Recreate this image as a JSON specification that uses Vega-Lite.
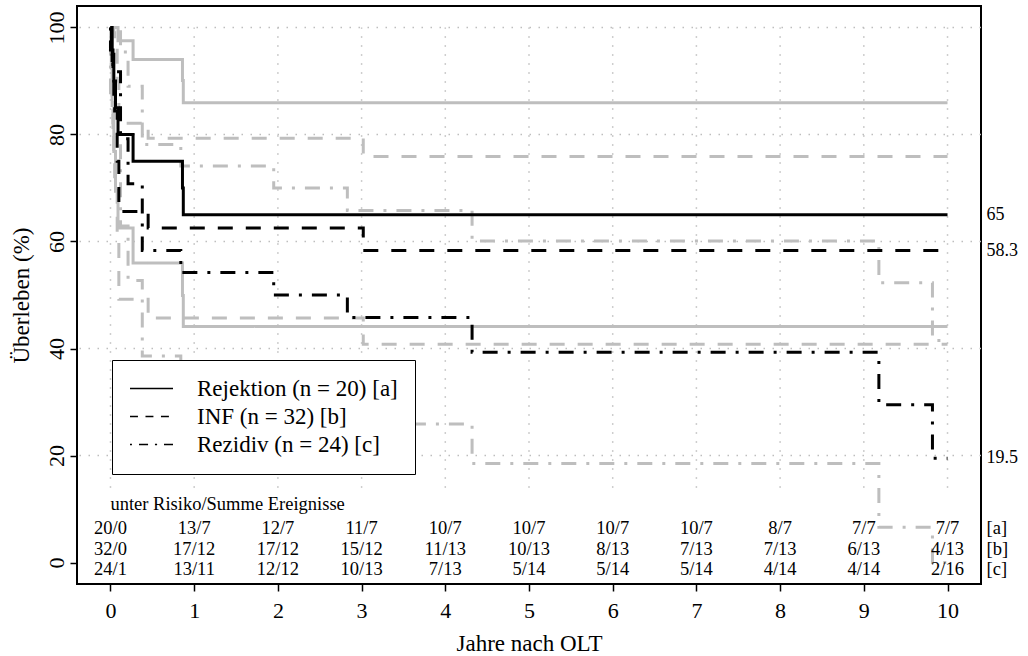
{
  "$schema": "https://vega.github.io/schema/vega-lite/v6.json",
  "width": 904,
  "height": 578,
  "autosize": {"type": "none"},
  "padding": {"left": 77, "top": 6, "right": 47, "bottom": 72},
  "background": "white",
  "config": {
    "view": {"stroke": "black", "strokeWidth": 2},
    "font": "Liberation Serif",
    "text": {"font": "Liberation Serif", "color": "black"},
    "axis": {
      "domain": false, "grid": false,
      "tickSize": 7, "tickWidth": 1.5, "tickColor": "black",
      "labelFont": "Liberation Serif", "labelFontSize": 22, "labelColor": "black",
      "labelOverlap": false, "labelFlush": false,
      "titleFont": "Liberation Serif", "titleFontSize": 23, "titleFontWeight": "normal", "titleColor": "black"
    },
    "axisX": {
      "labelPadding": 9, "labelBaseline": "top",
      "titleX": 452, "titleY": 66, "titleAlign": "center", "titleBaseline": "alphabetic"
    },
    "axisY": {
      "labelAngle": 270, "labelAlign": "center", "labelBaseline": "alphabetic", "labelPadding": 7,
      "titleAngle": 270, "titleX": -49, "titleY": 289, "titleAlign": "center", "titleBaseline": "alphabetic"
    },
    "legend": {
      "title": null, "orient": "none", "legendX": 35, "legendY": 354,
      "symbolSize": 1849, "symbolStrokeWidth": 1.6, "symbolOpacity": 1,
      "symbolStrokeColor": "black", "symbolFillColor": "transparent", "clipHeight": 23,
      "labelFont": "Liberation Serif", "labelFontSize": 23, "labelColor": "black",
      "labelLimit": 400, "labelOffset": 23, "rowPadding": 4, "padding": 17,
      "fillColor": "white", "strokeColor": "black"
    }
  },
  "datasets": {
    "km": [
      {"g": "Rejektion", "b": "est", "t": 0, "s": 100},
      {"g": "Rejektion", "b": "est", "t": 0.02, "s": 95},
      {"g": "Rejektion", "b": "est", "t": 0.04, "s": 90},
      {"g": "Rejektion", "b": "est", "t": 0.06, "s": 85},
      {"g": "Rejektion", "b": "est", "t": 0.09, "s": 80},
      {"g": "Rejektion", "b": "est", "t": 0.27, "s": 75},
      {"g": "Rejektion", "b": "est", "t": 0.86, "s": 70},
      {"g": "Rejektion", "b": "est", "t": 0.87, "s": 65},
      {"g": "Rejektion", "b": "est", "t": 10, "s": 65},
      {"g": "Rejektion", "b": "lo", "t": 0, "s": 100},
      {"g": "Rejektion", "b": "lo", "t": 0.02, "s": 85.4},
      {"g": "Rejektion", "b": "lo", "t": 0.04, "s": 76.8},
      {"g": "Rejektion", "b": "lo", "t": 0.06, "s": 69.4},
      {"g": "Rejektion", "b": "lo", "t": 0.09, "s": 62.5},
      {"g": "Rejektion", "b": "lo", "t": 0.27, "s": 56.0},
      {"g": "Rejektion", "b": "lo", "t": 0.86, "s": 49.9},
      {"g": "Rejektion", "b": "lo", "t": 0.87, "s": 44.1},
      {"g": "Rejektion", "b": "lo", "t": 10, "s": 44.1},
      {"g": "Rejektion", "b": "up", "t": 0, "s": 100},
      {"g": "Rejektion", "b": "up", "t": 0.09, "s": 97.5},
      {"g": "Rejektion", "b": "up", "t": 0.27, "s": 94.0},
      {"g": "Rejektion", "b": "up", "t": 0.86, "s": 90.1},
      {"g": "Rejektion", "b": "up", "t": 0.87, "s": 85.9},
      {"g": "Rejektion", "b": "up", "t": 10, "s": 85.9},
      {"g": "INF", "b": "est", "t": 0, "s": 100},
      {"g": "INF", "b": "est", "t": 0.01, "s": 96.9},
      {"g": "INF", "b": "est", "t": 0.02, "s": 93.8},
      {"g": "INF", "b": "est", "t": 0.03, "s": 90.6},
      {"g": "INF", "b": "est", "t": 0.04, "s": 87.5},
      {"g": "INF", "b": "est", "t": 0.05, "s": 84.4},
      {"g": "INF", "b": "est", "t": 0.08, "s": 75.0},
      {"g": "INF", "b": "est", "t": 0.1, "s": 65.6},
      {"g": "INF", "b": "est", "t": 0.45, "s": 62.5},
      {"g": "INF", "b": "est", "t": 3.02, "s": 58.3},
      {"g": "INF", "b": "est", "t": 10, "s": 58.3},
      {"g": "INF", "b": "lo", "t": 0, "s": 100},
      {"g": "INF", "b": "lo", "t": 0.01, "s": 90.8},
      {"g": "INF", "b": "lo", "t": 0.02, "s": 85.4},
      {"g": "INF", "b": "lo", "t": 0.03, "s": 80.5},
      {"g": "INF", "b": "lo", "t": 0.04, "s": 76.0},
      {"g": "INF", "b": "lo", "t": 0.05, "s": 71.8},
      {"g": "INF", "b": "lo", "t": 0.08, "s": 60.0},
      {"g": "INF", "b": "lo", "t": 0.1, "s": 49.2},
      {"g": "INF", "b": "lo", "t": 0.45, "s": 45.7},
      {"g": "INF", "b": "lo", "t": 3.02, "s": 40.8},
      {"g": "INF", "b": "lo", "t": 10, "s": 40.8},
      {"g": "INF", "b": "up", "t": 0, "s": 100},
      {"g": "INF", "b": "up", "t": 0.04, "s": 99.0},
      {"g": "INF", "b": "up", "t": 0.05, "s": 97.0},
      {"g": "INF", "b": "up", "t": 0.08, "s": 90.0},
      {"g": "INF", "b": "up", "t": 0.1, "s": 82.1},
      {"g": "INF", "b": "up", "t": 0.45, "s": 79.3},
      {"g": "INF", "b": "up", "t": 3.02, "s": 75.9},
      {"g": "INF", "b": "up", "t": 10, "s": 75.9},
      {"g": "Rezidiv", "b": "est", "t": 0, "s": 100},
      {"g": "Rezidiv", "b": "est", "t": 0, "s": 95.8},
      {"g": "Rezidiv", "b": "est", "t": 0.03, "s": 91.7},
      {"g": "Rezidiv", "b": "est", "t": 0.12, "s": 79.2},
      {"g": "Rezidiv", "b": "est", "t": 0.21, "s": 70.8},
      {"g": "Rezidiv", "b": "est", "t": 0.38, "s": 58.3},
      {"g": "Rezidiv", "b": "est", "t": 0.84, "s": 54.2},
      {"g": "Rezidiv", "b": "est", "t": 1.95, "s": 50.0},
      {"g": "Rezidiv", "b": "est", "t": 2.83, "s": 45.8},
      {"g": "Rezidiv", "b": "est", "t": 4.32, "s": 39.3},
      {"g": "Rezidiv", "b": "est", "t": 9.18, "s": 29.5},
      {"g": "Rezidiv", "b": "est", "t": 9.82, "s": 19.5},
      {"g": "Rezidiv", "b": "est", "t": 10, "s": 19.5},
      {"g": "Rezidiv", "b": "lo", "t": 0, "s": 100},
      {"g": "Rezidiv", "b": "lo", "t": 0, "s": 87.8},
      {"g": "Rezidiv", "b": "lo", "t": 0.03, "s": 80.6},
      {"g": "Rezidiv", "b": "lo", "t": 0.12, "s": 62.9},
      {"g": "Rezidiv", "b": "lo", "t": 0.21, "s": 52.7},
      {"g": "Rezidiv", "b": "lo", "t": 0.38, "s": 38.6},
      {"g": "Rezidiv", "b": "lo", "t": 0.84, "s": 34.2},
      {"g": "Rezidiv", "b": "lo", "t": 1.95, "s": 30.0},
      {"g": "Rezidiv", "b": "lo", "t": 2.83, "s": 25.9},
      {"g": "Rezidiv", "b": "lo", "t": 4.32, "s": 18.5},
      {"g": "Rezidiv", "b": "lo", "t": 9.18, "s": 6.6},
      {"g": "Rezidiv", "b": "lo", "t": 9.82, "s": 0},
      {"g": "Rezidiv", "b": "lo", "t": 10, "s": 0},
      {"g": "Rezidiv", "b": "up", "t": 0, "s": 100},
      {"g": "Rezidiv", "b": "up", "t": 0.12, "s": 95.4},
      {"g": "Rezidiv", "b": "up", "t": 0.21, "s": 89.0},
      {"g": "Rezidiv", "b": "up", "t": 0.38, "s": 78.1},
      {"g": "Rezidiv", "b": "up", "t": 0.84, "s": 74.1},
      {"g": "Rezidiv", "b": "up", "t": 1.95, "s": 70.0},
      {"g": "Rezidiv", "b": "up", "t": 2.83, "s": 65.8},
      {"g": "Rezidiv", "b": "up", "t": 4.32, "s": 60.1},
      {"g": "Rezidiv", "b": "up", "t": 9.18, "s": 52.3},
      {"g": "Rezidiv", "b": "up", "t": 9.82, "s": 41.5},
      {"g": "Rezidiv", "b": "up", "t": 10, "s": 41.5}
    ],
    "risk": [
      {"t": 0, "a": "20/0", "b": "32/0", "c": "24/1"},
      {"t": 1, "a": "13/7", "b": "17/12", "c": "13/11"},
      {"t": 2, "a": "12/7", "b": "17/12", "c": "12/12"},
      {"t": 3, "a": "11/7", "b": "15/12", "c": "10/13"},
      {"t": 4, "a": "10/7", "b": "11/13", "c": "7/13"},
      {"t": 5, "a": "10/7", "b": "10/13", "c": "5/14"},
      {"t": 6, "a": "10/7", "b": "8/13", "c": "5/14"},
      {"t": 7, "a": "10/7", "b": "7/13", "c": "5/14"},
      {"t": 8, "a": "8/7", "b": "7/13", "c": "4/14"},
      {"t": 9, "a": "7/7", "b": "6/13", "c": "4/14"},
      {"t": 10, "a": "7/7", "b": "4/13", "c": "2/16"}
    ]
  },
  "layer": [
    {
      "data": {"values": [{"h": 20}, {"h": 40}, {"h": 60}, {"h": 80}, {"h": 100}]},
      "mark": {"type": "rule", "stroke": "#BEBEBE", "strokeWidth": 1.5, "strokeDash": [1.5, 7.5]},
      "encoding": {
        "y": {
          "field": "h", "type": "quantitative",
          "scale": {"domain": [-4, 104], "nice": false, "zero": false},
          "axis": {"values": [0, 20, 40, 60, 80, 100], "title": "Überleben (%)"}
        }
      }
    },
    {
      "data": {"values": [{"v": 0}, {"v": 1}, {"v": 2}, {"v": 3}, {"v": 4}, {"v": 5}, {"v": 6}, {"v": 7}, {"v": 8}, {"v": 9}, {"v": 10}]},
      "mark": {"type": "rule", "stroke": "#BEBEBE", "strokeWidth": 1.5, "strokeDash": [1.5, 7.5]},
      "encoding": {
        "x": {
          "field": "v", "type": "quantitative",
          "scale": {"domain": [-0.4, 10.4], "nice": false, "zero": false},
          "axis": {"values": [0, 1, 2, 3, 4, 5, 6, 7, 8, 9, 10], "format": "d", "title": "Jahre nach OLT"}
        },
        "y": {"datum": 14, "type": "quantitative", "scale": {"domain": [-4, 104], "nice": false, "zero": false}, "title": "Überleben (%)"},
        "y2": {"datum": 100}
      }
    },
    {
      "data": {"name": "km"},
      "transform": [{"filter": "datum.b != 'est'"}],
      "mark": {"type": "line", "interpolate": "step-after", "stroke": "#BEBEBE", "strokeWidth": 3},
      "encoding": {
        "x": {"field": "t", "type": "quantitative", "scale": {"domain": [-0.4, 10.4], "nice": false, "zero": false}, "title": "Jahre nach OLT"},
        "y": {"field": "s", "type": "quantitative", "scale": {"domain": [-4, 104], "nice": false, "zero": false}, "title": "Überleben (%)"},
        "strokeDash": {
          "field": "g", "type": "nominal",
          "scale": {"domain": ["Rejektion", "INF", "Rezidiv"], "range": [[1, 0], [15, 13], [3, 10, 15, 10]]},
          "legend": null
        },
        "detail": {"field": "b"}
      }
    },
    {
      "data": {"name": "km"},
      "transform": [{"filter": "datum.b == 'est'"}],
      "mark": {"type": "line", "interpolate": "step-after", "stroke": "black", "strokeWidth": 3},
      "encoding": {
        "x": {"field": "t", "type": "quantitative", "scale": {"domain": [-0.4, 10.4], "nice": false, "zero": false}, "title": "Jahre nach OLT"},
        "y": {"field": "s", "type": "quantitative", "scale": {"domain": [-4, 104], "nice": false, "zero": false}, "title": "Überleben (%)"},
        "strokeDash": {
          "field": "g", "type": "nominal",
          "scale": {"domain": ["Rejektion", "INF", "Rezidiv"], "range": [[1, 0], [15, 13], [3, 10, 15, 10]]},
          "legend": null
        }
      }
    },
    {
      "description": "Key entries: short thin line samples in the style of each curve",
      "data": {"values": [{"k": "Rejektion (n = 20) [a]"}, {"k": "INF (n = 32) [b]"}, {"k": "Rezidiv (n = 24) [c]"}]},
      "mark": {"type": "point", "filled": false, "clip": true, "color": "black", "opacity": 1, "strokeOpacity": 1, "strokeWidth": 1.6},
      "encoding": {
        "x": {"datum": -5, "type": "quantitative", "scale": {"domain": [-0.4, 10.4], "nice": false, "zero": false}, "title": "Jahre nach OLT"},
        "y": {"datum": -20, "type": "quantitative", "scale": {"domain": [-4, 104], "nice": false, "zero": false}, "title": "Überleben (%)"},
        "shape": {
          "field": "k", "type": "nominal",
          "scale": {
            "domain": ["Rejektion (n = 20) [a]", "INF (n = 32) [b]", "Rezidiv (n = 24) [c]"],
            "range": [
              "M-1,0H1",
              "M-1,0H-0.63M-0.28,0H0.09M0.44,0H0.81",
              "M-1,0H-0.91M-0.58,0H-0.16M0.16,0H0.26M0.58,0H1"
            ]
          },
          "legend": {
            "encode": {
              "legend": {"update": {"strokeWidth": {"value": 2}}},
              "symbols": {"update": {"opacity": {"value": 1}, "strokeOpacity": {"value": 1}}}
            }
          }
        }
      }
    },
    {
      "data": {"name": "km"},
      "transform": [{"filter": "datum.b == 'est' && datum.t == 10"}],
      "mark": {"type": "text", "align": "left", "baseline": "middle", "dx": 39, "fontSize": 18},
      "encoding": {
        "x": {"field": "t", "type": "quantitative", "scale": {"domain": [-0.4, 10.4], "nice": false, "zero": false}, "title": "Jahre nach OLT"},
        "y": {"field": "s", "type": "quantitative", "scale": {"domain": [-4, 104], "nice": false, "zero": false}, "title": "Überleben (%)"},
        "text": {"field": "s", "type": "quantitative", "format": ".3~r"}
      }
    },
    {
      "data": {"values": [{"h": "unter Risiko/Summe Ereignisse"}]},
      "mark": {"type": "text", "align": "left", "baseline": "middle", "fontSize": 18.5},
      "encoding": {
        "x": {"datum": 0, "type": "quantitative", "scale": {"domain": [-0.4, 10.4], "nice": false, "zero": false}, "title": "Jahre nach OLT"},
        "y": {"datum": 11, "type": "quantitative", "scale": {"domain": [-4, 104], "nice": false, "zero": false}, "title": "Überleben (%)"},
        "text": {"field": "h"}
      }
    },
    {
      "data": {"name": "risk"},
      "mark": {"type": "text", "align": "center", "baseline": "middle", "fontSize": 18.5},
      "encoding": {
        "x": {"field": "t", "type": "quantitative", "scale": {"domain": [-0.4, 10.4], "nice": false, "zero": false}, "title": "Jahre nach OLT"},
        "y": {"datum": 6.4, "type": "quantitative", "scale": {"domain": [-4, 104], "nice": false, "zero": false}, "title": "Überleben (%)"},
        "text": {"field": "a"}
      }
    },
    {
      "data": {"name": "risk"},
      "mark": {"type": "text", "align": "center", "baseline": "middle", "fontSize": 18.5},
      "encoding": {
        "x": {"field": "t", "type": "quantitative", "scale": {"domain": [-0.4, 10.4], "nice": false, "zero": false}, "title": "Jahre nach OLT"},
        "y": {"datum": 2.6, "type": "quantitative", "scale": {"domain": [-4, 104], "nice": false, "zero": false}, "title": "Überleben (%)"},
        "text": {"field": "b"}
      }
    },
    {
      "data": {"name": "risk"},
      "mark": {"type": "text", "align": "center", "baseline": "middle", "fontSize": 18.5},
      "encoding": {
        "x": {"field": "t", "type": "quantitative", "scale": {"domain": [-0.4, 10.4], "nice": false, "zero": false}, "title": "Jahre nach OLT"},
        "y": {"datum": -1.2, "type": "quantitative", "scale": {"domain": [-4, 104], "nice": false, "zero": false}, "title": "Überleben (%)"},
        "text": {"field": "c"}
      }
    },
    {
      "data": {"values": [{"lab": "[a]"}]},
      "mark": {"type": "text", "align": "left", "baseline": "middle", "dx": 39, "fontSize": 18.5},
      "encoding": {
        "x": {"datum": 10, "type": "quantitative", "scale": {"domain": [-0.4, 10.4], "nice": false, "zero": false}, "title": "Jahre nach OLT"},
        "y": {"datum": 6.4, "type": "quantitative", "scale": {"domain": [-4, 104], "nice": false, "zero": false}, "title": "Überleben (%)"},
        "text": {"field": "lab"}
      }
    },
    {
      "data": {"values": [{"lab": "[b]"}]},
      "mark": {"type": "text", "align": "left", "baseline": "middle", "dx": 39, "fontSize": 18.5},
      "encoding": {
        "x": {"datum": 10, "type": "quantitative", "scale": {"domain": [-0.4, 10.4], "nice": false, "zero": false}, "title": "Jahre nach OLT"},
        "y": {"datum": 2.6, "type": "quantitative", "scale": {"domain": [-4, 104], "nice": false, "zero": false}, "title": "Überleben (%)"},
        "text": {"field": "lab"}
      }
    },
    {
      "data": {"values": [{"lab": "[c]"}]},
      "mark": {"type": "text", "align": "left", "baseline": "middle", "dx": 39, "fontSize": 18.5},
      "encoding": {
        "x": {"datum": 10, "type": "quantitative", "scale": {"domain": [-0.4, 10.4], "nice": false, "zero": false}, "title": "Jahre nach OLT"},
        "y": {"datum": -1.2, "type": "quantitative", "scale": {"domain": [-4, 104], "nice": false, "zero": false}, "title": "Überleben (%)"},
        "text": {"field": "lab"}
      }
    }
  ]
}
